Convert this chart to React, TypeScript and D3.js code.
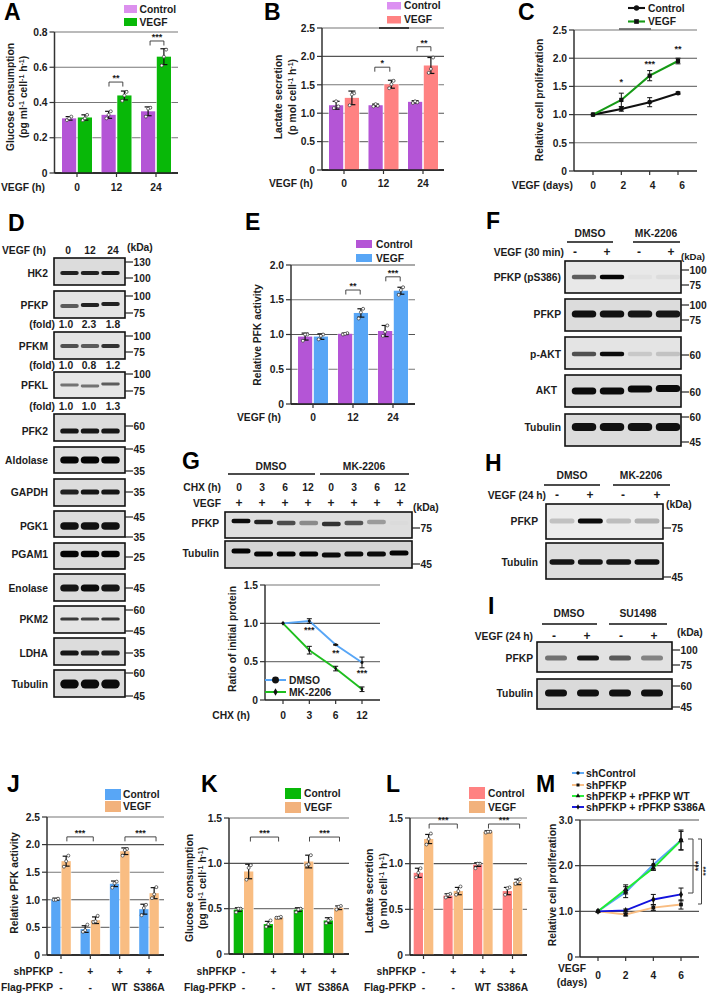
import React from "react";
import * as d3 from "d3";

const FONT = '"Liberation Sans", Arial, sans-serif';
const INK = "#1c1c1c";
const PURPLE = "#b455d6";
const GREEN = "#08b808";
const SALMON = "#ff8282";
const BLUE = "#58a6f6";
const ORANGE = "#f9bd82";

// ---------- bar chart values ----------
const hours = ["0", "12", "24"];
const glucoseCtrl = [0.31, 0.33, 0.35];
const glucoseVegf = [0.315, 0.44, 0.66];
const glucoseCtrlSd = [0.01, 0.02, 0.025];
const glucoseVegfSd = [0.015, 0.025, 0.045];
const glucoseCtrlPts = [[0.3, 0.32, 0.31], [0.31, 0.35, 0.33], [0.32, 0.37, 0.365]];
const glucoseVegfPts = [[0.3, 0.33, 0.31], [0.41, 0.46, 0.44], [0.61, 0.7, 0.66]];

const lactateCtrl = [1.14, 1.14, 1.2];
const lactateVegf = [1.27, 1.51, 1.84];
const lactateCtrlSd = [0.07, 0.02, 0.02];
const lactateVegfSd = [0.12, 0.07, 0.14];
const lactateCtrlPts = [[1.09, 1.12, 1.21], [1.12, 1.13, 1.16], [1.18, 1.19, 1.21]];
const lactateVegfPts = [[1.14, 1.35, 1.33], [1.44, 1.57, 1.51], [1.71, 1.98, 1.78]];

const pfkCtrl = [0.97, 1.01, 1.05];
const pfkVegf = [0.97, 1.31, 1.63];
const pfkCtrlSd = [0.05, 0.01, 0.08];
const pfkVegfSd = [0.04, 0.06, 0.05];
const pfkCtrlPts = [[0.91, 1.0, 1.0], [1.0, 1.02, 1.01], [0.98, 1.13, 1.04]];
const pfkVegfPts = [[0.93, 1.0, 0.98], [1.23, 1.37, 1.32], [1.57, 1.68, 1.64]];

const rescueSh = ["-", "+", "+", "+"];
const rescueFlag = ["-", "-", "WT", "S386A"];

const jPfkCtrl = [1.01, 0.47, 1.29, 0.83];
const jPfkVegf = [1.7, 0.63, 1.88, 1.12];
const jPfkCtrlSd = [0.02, 0.06, 0.05, 0.09];
const jPfkVegfSd = [0.09, 0.06, 0.06, 0.1];
const jPfkCtrlPts = [[1.0, 1.02, 1.0], [0.42, 0.55, 0.45], [1.22, 1.33, 1.3], [0.72, 0.91, 0.85]];
const jPfkVegfPts = [[1.6, 1.8, 1.7], [0.6, 0.71, 0.61], [1.8, 1.92, 1.9], [1.03, 1.23, 1.1]];

const kGluCtrl = [0.49, 0.33, 0.49, 0.37];
const kGluVegf = [0.91, 0.4, 1.02, 0.51];
const kGluCtrlSd = [0.02, 0.03, 0.02, 0.03];
const kGluVegfSd = [0.08, 0.01, 0.07, 0.02];
const kGluCtrlPts = [[0.46, 0.5, 0.5], [0.3, 0.37, 0.33], [0.46, 0.5, 0.49], [0.34, 0.39, 0.37]];
const kGluVegfPts = [[0.82, 0.98, 0.95], [0.4, 0.41, 0.4], [0.98, 1.09, 0.99], [0.49, 0.53, 0.52]];

const lLacCtrl = [0.9, 0.65, 0.99, 0.7];
const lLacVegf = [1.27, 0.7, 1.35, 0.8];
const lLacCtrlSd = [0.05, 0.02, 0.02, 0.04];
const lLacVegfSd = [0.05, 0.04, 0.01, 0.03];
const lLacCtrlPts = [[0.85, 0.95, 0.9], [0.63, 0.67, 0.66], [0.95, 1.0, 1.0], [0.66, 0.74, 0.73]];
const lLacVegfPts = [[1.21, 1.33, 1.27], [0.66, 0.75, 0.7], [1.34, 1.35, 1.35], [0.78, 0.83, 0.8]];

// ---------- line chart values ----------
const days = ["0", "2", "4", "6"];
const prolifCtrl = [1, 1.1, 1.22, 1.38];
const prolifCtrlSd = [0, 0.04, 0.08, 0.02];
const prolifVegf = [1, 1.26, 1.69, 1.95];
const prolifVegfSd = [0, 0.12, 0.09, 0.05];

const chx = ["0", "3", "6", "12"];
const ratioDmso = [1, 1.03, 0.72, 0.49];
const ratioDmsoSd = [0, 0.03, 0.005, 0.07];
const ratioMk = [1, 0.65, 0.41, 0.14];
const ratioMkSd = [0, 0.05, 0.03, 0.03];

const mShControl = [1, 1.42, 2.02, 2.56];
const mShControlSd = [0, 0.12, 0.12, 0.22];
const mShPfkp = [1, 0.93, 1.08, 1.15];
const mShPfkpSd = [0, 0.03, 0.06, 0.1];
const mWt = [1, 1.48, 1.95, 2.55];
const mWtSd = [0, 0.1, 0.05, 0.2];
const mS386a = [1, 1.02, 1.26, 1.37];
const mS386aSd = [0, 0.03, 0.11, 0.14];

// ---------- blot band strengths, one per lane ----------
const dHk2 = [0.85, 0.85, 0.88];
const dPfkp = [0.6, 0.85, 0.85];
const dPfkm = [0.65, 0.6, 0.78];
const dPfkl = [0.5, 0.5, 0.6];
const dPfk2 = [0.9, 0.9, 0.9];
const dAldolase = [0.98, 0.98, 0.98];
const dGapdh = [0.85, 0.9, 0.9];
const dPgk1 = [0.92, 0.92, 0.92];
const dPgam1 = [0.98, 0.98, 0.98];
const dEnolase = [0.9, 0.95, 0.9];
const dPkm2 = [0.75, 0.7, 0.75];
const dLdha = [0.9, 0.85, 0.85];
const dTubulin = [0.95, 0.95, 0.95];
const foldPfkp = ["1.0", "2.3", "1.8"];
const foldPfkm = ["1.0", "0.8", "1.2"];
const foldPfkl = ["1.0", "1.0", "1.3"];

const fPs386 = [0.6, 0.98, 0.03, 0.05];
const fPfkp = [0.92, 0.92, 0.9, 0.9];
const fPakt = [0.65, 0.95, 0.12, 0.15];
const fAkt = [0.95, 0.95, 0.95, 0.95];
const fTubulin = [0.92, 0.92, 0.92, 0.92];

const gPfkp = [0.95, 0.85, 0.65, 0.38, 0.78, 0.62, 0.3, 0.01];
const gTubulin = [0.98, 0.98, 0.98, 0.98, 0.95, 0.95, 0.95, 0.98];
const gChxRow = ["0", "3", "6", "12", "0", "3", "6", "12"];
const gVegfRow = ["+", "+", "+", "+", "+", "+", "+", "+"];

const hPfkp = [0.18, 0.95, 0.2, 0.25];
const hTubulin = [0.9, 0.9, 0.9, 0.92];
const iPfkp = [0.5, 0.9, 0.6, 0.42];
const iTubulin = [0.92, 0.92, 0.92, 0.92];
const pairRow = ["-", "+", "-", "+"];

// split "cell^-1^" into normal and raised runs
function Rich({ text }: { text: string }) {
  const parts = text.split("^");
  return (
    <>
      {parts.map((s, i) =>
        i % 2 ? (
          <tspan key={i} fontSize={7} dy={-3}>{s}</tspan>
        ) : (
          <tspan key={i} dy={i ? 3 : 0}>{s}</tspan>
        )
      )}
    </>
  );
}

function T({ x, y, children, anchor = "start", size = 10.3 }: any) {
  return (
    <text x={x} y={y} textAnchor={anchor} fontSize={size} fontWeight="bold" fontFamily={FONT} fill={INK}>
      {children}
    </text>
  );
}

function Letter({ c, x, y }: any) {
  return (
    <text x={x} y={y} fontSize={23} fontWeight="bold" fontFamily={FONT} fill="#000">{c}</text>
  );
}

function YLabel({ lines, xs, cy }: any) {
  return (
    <>
      {lines.map((l: string, i: number) => (
        <text key={i} transform={`translate(${xs[i]},${cy}) rotate(-90)`} textAnchor="middle" fontSize={10.3}
          fontWeight="bold" fontFamily={FONT} fill={INK}>
          <Rich text={l} />
        </text>
      ))}
    </>
  );
}

function YAxis({ y, axisX, right, ticks }: any) {
  const fmt = (d: number) => (d === 0 ? "0" : d.toFixed(1));
  return (
    <>
      {ticks.map((t: number) => (
        <g key={t}>
          {t > 0 && <line x1={axisX} x2={right} y1={y(t)} y2={y(t)} stroke={t % 1 === 0 ? "#555" : "#777"} strokeWidth={1.1} />}
          <line x1={axisX - 5} x2={axisX} y1={y(t)} y2={y(t)} stroke="#333" strokeWidth={1.2} />
          <T x={axisX - 7} y={y(t) + 3.7} anchor="end">{fmt(t)}</T>
        </g>
      ))}
      <line x1={axisX} x2={axisX} y1={y(ticks[ticks.length - 1])} y2={y(0)} stroke="#333" strokeWidth={1.5} />
      <line x1={axisX} x2={right} y1={y(0)} y2={y(0)} stroke="#222" strokeWidth={1.5} />
    </>
  );
}

function BarPanel({ p }: any) {
  const y = d3.scaleLinear().domain([0, p.max]).range([p.bottom, p.top]);
  const x = d3.scaleLinear().domain([0, p.n - 1]).range([p.first, p.last]);
  const inner = d3.scaleBand().domain(["c", "v"]).range([-p.half, p.half]).paddingInner(p.gap);
  const w = inner.bandwidth();
  const jitter = [-2.2, 2.2, 0];
  const series = [
    { key: "c", vals: p.ctrl, sd: p.ctrlSd, pts: p.ctrlPts, color: p.ctrlColor },
    { key: "v", vals: p.vegf, sd: p.vegfSd, pts: p.vegfPts, color: p.vegfColor },
  ];
  return (
    <g>
      <YAxis y={y} axisX={p.axisX} right={p.right} ticks={p.ticks} />
      {series.map((s) =>
        s.vals.map((v: number, i: number) => {
          const bx = x(i) + (inner(s.key) as number);
          const cx = bx + w / 2;
          return (
            <g key={s.key + i}>
              <rect x={bx - 0.6} y={y(v) - 0.6} width={w + 1.2} height={y(0) - y(v) + 0.6} fill="#fff" opacity={0.7} />
              <rect x={bx} y={y(v)} width={w} height={y(0) - y(v)} fill={s.color} />
              <line x1={cx} x2={cx} y1={y(v - s.sd[i])} y2={y(v + s.sd[i])} stroke="#111" strokeWidth={1.2} />
              <line x1={cx - 3.5} x2={cx + 3.5} y1={y(v + s.sd[i])} y2={y(v + s.sd[i])} stroke="#111" strokeWidth={1.2} />
              <line x1={cx - 3.5} x2={cx + 3.5} y1={y(v - s.sd[i])} y2={y(v - s.sd[i])} stroke="#111" strokeWidth={1.2} />
              {s.pts[i].map((pt: number, k: number) => (
                <circle key={k} cx={cx + jitter[k]} cy={y(pt)} r={1.5} fill="#fff" stroke="#333" strokeWidth={0.7} />
              ))}
            </g>
          );
        })
      )}
      <line x1={p.axisX} x2={p.right} y1={y(0)} y2={y(0)} stroke="#222" strokeWidth={1.5} />
      {d3.range(p.n).map((i) => (
        <line key={i} x1={x(i)} x2={x(i)} y1={y(0)} y2={y(0) + 4} stroke="#333" strokeWidth={1.2} />
      ))}
      {p.brackets.map((b: any, i: number) => {
        const by = y(b.at);
        return (
          <g key={i}>
            <path d={`M${x(b.from)},${by + 4.5}V${by}H${x(b.to)}V${by + 4.5}`} fill="none" stroke="#333" strokeWidth={0.9} />
            <T x={(x(b.from) + x(b.to)) / 2} y={by - 1} anchor="middle" size={9}>{b.label}</T>
          </g>
        );
      })}
      {p.rows.map((r: any, i: number) => (
        <g key={i}>
          <T x={p.rowEnd} y={r.y} anchor="end">{r.label}</T>
          {r.values.map((t: string, k: number) => (
            <T key={k} x={x(k)} y={r.y} anchor="middle">{t}</T>
          ))}
        </g>
      ))}
    </g>
  );
}

function LinePanel({ p }: any) {
  const y = d3.scaleLinear().domain([0, p.max]).range([p.bottom, p.top]);
  const x = d3.scalePoint().domain(p.cats).range([p.first, p.last]);
  const line = d3.line<number>().x((_, i) => x(p.cats[i]) as number).y((d) => y(d));
  return (
    <g>
      <YAxis y={y} axisX={p.axisX} right={p.right} ticks={p.ticks} />
      {p.cats.map((c: string, i: number) => (
        <g key={c}>
          <line x1={x(c)} x2={x(c)} y1={y(0)} y2={y(0) + 4} stroke="#333" strokeWidth={1.2} />
          <T x={(x(c) as number) + (p.tickDx ? p.tickDx[i] : 0)} y={p.tickY} anchor="middle">{c}</T>
        </g>
      ))}
      {p.series.map((s: any) => (
        <path key={s.name} d={line(s.vals) as string} fill="none" stroke={s.color} strokeWidth={p.lineW || 1.9} />
      ))}
      {p.series.map((s: any) =>
        s.vals.map((v: number, i: number) => {
          const cx = x(p.cats[i]) as number;
          return (
            <g key={s.name + i}>
              {s.sd[i] > 0 && (
                <path d={`M${cx - 2.5},${y(v + s.sd[i])}H${cx + 2.5}M${cx},${y(v + s.sd[i])}V${y(v - s.sd[i])}M${cx - 2.5},${y(v - s.sd[i])}H${cx + 2.5}`}
                  fill="none" stroke="#111" strokeWidth={1} />
              )}
              <path d={d3.symbol().type(s.shape).size(p.markSize || 13)() as string} transform={`translate(${cx},${y(v)})`} fill="#111" />
            </g>
          );
        })
      )}
      {(p.stars || []).map((s: any, i: number) => (
        <T key={i} x={x(s.at)} y={y(s.v)} anchor="middle" size={9}>{s.label}</T>
      ))}
    </g>
  );
}

function BarLegend({ x0, x1, ys, h, tx, colors }: any) {
  return (
    <>
      {["Control", "VEGF"].map((n, i) => (
        <g key={n}>
          <rect x={x0} y={ys[i]} width={x1 - x0} height={h} fill={colors[i]} />
          <T x={tx} y={ys[i] + h / 2 + 3.7}>{n}</T>
        </g>
      ))}
    </>
  );
}

function LineLegend({ rows, x0, x1, tx, markSize = 18, lineW = 1.9, size = 10.3 }: any) {
  return (
    <>
      {rows.map((r: any) => (
        <g key={r.name}>
          <line x1={x0} x2={x1} y1={r.y} y2={r.y} stroke={r.color} strokeWidth={lineW} />
          <path d={d3.symbol().type(r.shape).size(r.size || markSize)() as string} transform={`translate(${(x0 + x1) / 2},${r.y})`} fill="#111" />
          <T x={tx} y={r.y + 3.7} size={size}>{r.name}</T>
        </g>
      ))}
    </>
  );
}

// one boxed gel strip: grey ground, blurred bands from the lane strengths
function Blot({ x0, x1, lanes, bandW, b, labelEnd }: any) {
  const lx = d3.scalePoint().domain(d3.range(b.levels.length).map(String)).range(lanes);
  return (
    <g>
      <rect x={x0} y={b.y0} width={x1 - x0} height={b.y1 - b.y0} fill={b.bg || "#dcdcdc"} />
      <g filter="url(#bandBlur)">
        {b.levels.map((lv: number, i: number) => (
          <rect key={i} x={(lx(String(i)) as number) - bandW / 2} y={b.band - b.h / 2 + (b.tilt ? b.tilt[i] : 0)} width={bandW} height={b.h}
            rx={b.h / 2} fill="#050505" opacity={lv} />
        ))}
      </g>
      <rect x={x0} y={b.y0} width={x1 - x0} height={b.y1 - b.y0} fill="none" stroke="#111" strokeWidth={1.6} />
      <T x={labelEnd} y={b.band + 3.7} anchor="end">{b.label}</T>
      {(b.marks || []).map((m: any, i: number) => (
        <g key={i}>
          <line x1={x1} x2={x1 + 8} y1={m[1]} y2={m[1]} stroke="#222" strokeWidth={1.2} />
          <T x={x1 + 8.5} y={m[1] + 3.7}>{m[0]}</T>
        </g>
      ))}
    </g>
  );
}

const panelA = {
  axisX: 54.5, right: 178, top: 32, bottom: 173, max: 0.8, ticks: [0, 0.2, 0.4, 0.6, 0.8], n: 3, first: 77, last: 156,
  half: 15, gap: 0.1, ctrl: glucoseCtrl, vegf: glucoseVegf, ctrlSd: glucoseCtrlSd, vegfSd: glucoseVegfSd,
  ctrlPts: glucoseCtrlPts, vegfPts: glucoseVegfPts, ctrlColor: PURPLE, vegfColor: GREEN,
  brackets: [{ from: 0.81, to: 1.16, at: 0.516, label: "**" }, { from: 1.85, to: 2.2, at: 0.749, label: "***" }],
  rows: [{ label: "VEGF (h)", values: hours, y: 190.5 }], rowEnd: 45,
};
const panelB = {
  axisX: 322, right: 444, top: 28, bottom: 170, max: 2.5, ticks: [0, 0.5, 1, 1.5, 2, 2.5], n: 3, first: 344, last: 423,
  half: 15, gap: 0.1, ctrl: lactateCtrl, vegf: lactateVegf, ctrlSd: lactateCtrlSd, vegfSd: lactateVegfSd,
  ctrlPts: lactateCtrlPts, vegfPts: lactateVegfPts, ctrlColor: PURPLE, vegfColor: SALMON,
  brackets: [{ from: 0.78, to: 1.16, at: 1.81, label: "*" }, { from: 1.85, to: 2.2, at: 2.17, label: "**" }],
  rows: [{ label: "VEGF (h)", values: hours, y: 186.5 }], rowEnd: 313,
};
const panelE = {
  axisX: 291, right: 415, top: 265, bottom: 404, max: 2, ticks: [0, 0.5, 1, 1.5, 2], n: 3, first: 313, last: 393,
  half: 15, gap: 0.1, ctrl: pfkCtrl, vegf: pfkVegf, ctrlSd: pfkCtrlSd, vegfSd: pfkVegfSd,
  ctrlPts: pfkCtrlPts, vegfPts: pfkVegfPts, ctrlColor: PURPLE, vegfColor: BLUE,
  brackets: [{ from: 0.82, to: 1.18, at: 1.64, label: "**" }, { from: 1.82, to: 2.18, at: 1.83, label: "***" }],
  rows: [{ label: "VEGF (h)", values: hours, y: 420.5 }], rowEnd: 281,
};
const panelJ = {
  axisX: 47, right: 164, top: 817, bottom: 955, max: 2.5, ticks: [0, 0.5, 1, 1.5, 2, 2.5], n: 4, first: 61, last: 149,
  half: 9.8, gap: 0.1, ctrl: jPfkCtrl, vegf: jPfkVegf, ctrlSd: jPfkCtrlSd, vegfSd: jPfkVegfSd,
  ctrlPts: jPfkCtrlPts, vegfPts: jPfkVegfPts, ctrlColor: BLUE, vegfColor: ORANGE,
  brackets: [{ from: 0.2, to: 1.1, at: 2.14, label: "***" }, { from: 2.18, to: 3.24, at: 2.14, label: "***" }],
  rows: [{ label: "shPFKP", values: rescueSh, y: 974.5 }, { label: "Flag-PFKP", values: rescueFlag, y: 990.5 }], rowEnd: 53,
};
const panelK = {
  axisX: 229, right: 349, top: 818, bottom: 954, max: 1.5, ticks: [0, 0.5, 1, 1.5], n: 4, first: 243.5, last: 333.5,
  half: 9.8, gap: 0.1, ctrl: kGluCtrl, vegf: kGluVegf, ctrlSd: kGluCtrlSd, vegfSd: kGluVegfSd,
  ctrlPts: kGluCtrlPts, vegfPts: kGluVegfPts, ctrlColor: GREEN, vegfColor: ORANGE,
  brackets: [{ from: 0.23, to: 1.17, at: 1.29, label: "***" }, { from: 2.2, to: 3.2, at: 1.29, label: "***" }],
  rows: [{ label: "shPFKP", values: rescueSh, y: 974.5 }, { label: "Flag-PFKP", values: rescueFlag, y: 990.5 }], rowEnd: 236,
};
const panelL = {
  axisX: 410, right: 527, top: 818, bottom: 955, max: 1.5, ticks: [0, 0.5, 1, 1.5], n: 4, first: 423.5, last: 512.5,
  half: 9.8, gap: 0.1, ctrl: lLacCtrl, vegf: lLacVegf, ctrlSd: lLacCtrlSd, vegfSd: lLacVegfSd,
  ctrlPts: lLacCtrlPts, vegfPts: lLacVegfPts, ctrlColor: SALMON, vegfColor: ORANGE,
  brackets: [{ from: 0.19, to: 1.14, at: 1.434, label: "***" }, { from: 2.19, to: 3.24, at: 1.434, label: "***" }],
  rows: [{ label: "shPFKP", values: rescueSh, y: 974.5 }, { label: "Flag-PFKP", values: rescueFlag, y: 990.5 }], rowEnd: 416,
};

const panelC = {
  axisX: 574, right: 697, top: 30, bottom: 171, max: 2.5, ticks: [0, 0.5, 1, 1.5, 2, 2.5], cats: days, first: 593, last: 678, tickY: 188.5, tickDx: [0, 2, 3, 4], markSize: 18, lineW: 2.1,
  series: [
    { name: "Control", vals: prolifCtrl, sd: prolifCtrlSd, color: "#111", shape: d3.symbolCircle },
    { name: "VEGF", vals: prolifVegf, sd: prolifVegfSd, color: "#169a16", shape: d3.symbolSquare },
  ],
  stars: [{ at: "2", v: 1.53, label: "*" }, { at: "4", v: 1.85, label: "***" }, { at: "6", v: 2.11, label: "**" }],
};
const panelG = {
  axisX: 265, right: 380, top: 585, bottom: 700, max: 1.5, ticks: [0, 0.5, 1, 1.5], cats: chx, first: 283, last: 362, tickY: 719, markSize: 7,
  series: [
    { name: "DMSO", vals: ratioDmso, sd: ratioDmsoSd, color: BLUE, shape: d3.symbolCircle },
    { name: "MK-2206", vals: ratioMk, sd: ratioMkSd, color: "#1fbf1f", shape: d3.symbolDiamond },
  ],
  stars: [{ at: "3", v: 0.87, label: "***" }, { at: "6", v: 0.57, label: "**" }, { at: "12", v: 0.31, label: "***" }],
};
const panelM = {
  axisX: 580, right: 699, top: 820, bottom: 957, max: 3, ticks: [0, 1, 2, 3], cats: days, first: 598, last: 681, tickY: 979, markSize: 14, lineW: 1.9,
  series: [
    { name: "shControl", vals: mShControl, sd: mShControlSd, color: BLUE, shape: d3.symbolCircle },
    { name: "shPFKP", vals: mShPfkp, sd: mShPfkpSd, color: ORANGE, shape: d3.symbolSquare },
    { name: "shPFKP + rPFKP WT", vals: mWt, sd: mWtSd, color: "#22ee33", shape: d3.symbolTriangle },
    { name: "shPFKP + rPFKP S386A", vals: mS386a, sd: mS386aSd, color: "#1212dd", shape: d3.symbolDiamond },
  ],
};

const dBlots = [
  { label: "HK2", levels: dHk2, y0: 258, y1: 285, band: 273, h: 4.2, marks: [["130", 262], ["100", 278]] },
  { label: "PFKP", levels: dPfkp, y0: 291, y1: 318, band: 305, h: 4, tilt: [1, 0, -1], marks: [["100", 296], ["75", 313]], bg: "#e4e4e4" },
  { label: "PFKM", levels: dPfkm, y0: 332, y1: 359, band: 346, h: 4, marks: [["100", 336], ["75", 352]], bg: "#e4e4e4" },
  { label: "PFKL", levels: dPfkl, y0: 372, y1: 398, band: 385, h: 2.8, tilt: [0, 1, -1], marks: [["100", 374], ["75", 391]], bg: "#e6e6e6" },
  { label: "PFK2", levels: dPfk2, y0: 414, y1: 441, band: 431, h: 5.2, marks: [["60", 426]] },
  { label: "Aldolase", levels: dAldolase, y0: 447, y1: 473, band: 460, h: 7, marks: [["45", 449], ["35", 471]] },
  { label: "GAPDH", levels: dGapdh, y0: 479, y1: 506, band: 492, h: 5.2, marks: [["35", 492]] },
  { label: "PGK1", levels: dPgk1, y0: 511, y1: 537, band: 526, h: 7.5, marks: [["45", 517], ["35", 537]] },
  { label: "PGAM1", levels: dPgam1, y0: 543, y1: 569, band: 554, h: 6.5, marks: [["25", 557]] },
  { label: "Enolase", levels: dEnolase, y0: 574, y1: 601, band: 588, h: 7, marks: [["45", 588]] },
  { label: "PKM2", levels: dPkm2, y0: 606, y1: 633, band: 619, h: 3.2, marks: [["60", 610], ["45", 631]], bg: "#e4e4e4" },
  { label: "LDHA", levels: dLdha, y0: 638, y1: 665, band: 653, h: 5.2, marks: [["35", 653]] },
  { label: "Tubulin", levels: dTubulin, y0: 670, y1: 697, band: 684, h: 9, marks: [["60", 673], ["45", 696]] },
];
const fBlots = [
  { label: "PFKP (pS386)", levels: fPs386, y0: 261, y1: 293, band: 277, h: 4.5, marks: [["100", 270], ["75", 285]], bg: "#e8e8e8" },
  { label: "PFKP", levels: fPfkp, y0: 299, y1: 331, band: 314, h: 7, marks: [["100", 305], ["75", 320]] },
  { label: "p-AKT", levels: fPakt, y0: 337, y1: 369, band: 354, h: 4.5, marks: [["60", 355]], bg: "#e4e4e4" },
  { label: "AKT", levels: fAkt, y0: 375, y1: 407, band: 390, h: 7, tilt: [1, 1, -1, -1.5], marks: [["60", 392]] },
  { label: "Tubulin", levels: fTubulin, y0: 414, y1: 446, band: 427, h: 8, marks: [["60", 417], ["45", 442]] },
];
const gBlots = [
  { label: "PFKP", levels: gPfkp, y0: 512, y1: 538, band: 523, h: 4.5, tilt: [-2, -1, 0, 0, 1, 0, -1, 0], marks: [["75", 528]], bg: "#dedede" },
  { label: "Tubulin", levels: gTubulin, y0: 541, y1: 568, band: 553, h: 5, tilt: [-2, 1, 1, 1, 2, 1, 1, 0], marks: [["45", 564]], bg: "#d4d4d4" },
];
const hBlots = [
  { label: "PFKP", levels: hPfkp, y0: 504, y1: 539, band: 521, h: 5, marks: [["75", 528]], bg: "#ececec" },
  { label: "Tubulin", levels: hTubulin, y0: 543, y1: 579, band: 562, h: 5.5, marks: [["45", 577]], bg: "#dedede" },
];
const iBlots = [
  { label: "PFKP", levels: iPfkp, y0: 642, y1: 672, band: 658, h: 5, marks: [["100", 650], ["75", 665]], bg: "#e2e2e2" },
  { label: "Tubulin", levels: iTubulin, y0: 679, y1: 709, band: 693, h: 7, marks: [["60", 686], ["45", 707]], bg: "#dadada" },
];

// treatment bar and label above a pair of lanes
function Treatment({ name, cx, ty, x0, x1, ly }: any) {
  return (
    <>
      <T x={cx} y={ty} anchor="middle">{name}</T>
      <line x1={x0} x2={x1} y1={ly} y2={ly} stroke="#111" strokeWidth={1.5} />
    </>
  );
}

function Lanes({ values, xs, y, size }: any) {
  return (
    <>
      {values.map((v: string, i: number) => (
        <T key={i} x={xs[i]} y={y} anchor="middle" size={size}>{v}</T>
      ))}
    </>
  );
}

export default function App() {
  const gLanes = d3.scalePoint().domain(d3.range(8).map(String)).range([239, 400]);
  return (
    <svg width={710} height={994} style={{ position: "absolute", left: 0, top: 0, display: "block", background: "#fff" }}>
      <defs>
        <filter id="bandBlur" x="-20%" y="-100%" width="140%" height="300%">
          <feGaussianBlur stdDeviation="0.75" />
        </filter>
      </defs>

      {/* A */}
      <Letter c="A" x={4} y={20} />
      <BarLegend x0={124} x1={137} ys={[5, 18]} h={8} tx={139.5} colors={["#dc90ee", GREEN]} />
      <BarPanel p={panelA} />
      <YLabel lines={["Glucose consumption", "(pg ml^-1^ cell^-1^ h^-1^)"]} xs={[14, 27]} cy={97} />

      {/* B */}
      <Letter c="B" x={264} y={20} />
      <BarLegend x0={387} x1={401} ys={[2, 16]} h={7.5} tx={404} colors={["#dc90f2", SALMON]} />
      <BarPanel p={panelB} />
      <line x1={379} x2={409} y1={28} y2={28} stroke="#111" strokeWidth={1.5} />
      <YLabel lines={["Lactate secretion", "(p mol cell^-1^ h^-1^)"]} xs={[282, 296]} cy={97} />

      {/* C */}
      <Letter c="C" x={518} y={20} />
      <LineLegend x0={628} x1={645} tx={648} lineW={2.1} markSize={22} rows={[
        { name: "Control", y: 8, color: "#111", shape: d3.symbolCircle },
        { name: "VEGF", y: 21.5, color: "#169a16", shape: d3.symbolSquare },
      ]} />
      <LinePanel p={panelC} />
      <line x1={619} x2={651} y1={29} y2={29} stroke="#555" strokeWidth={1.5} />
      <YLabel lines={["Relative cell proliferation"]} xs={[543]} cy={100} />
      <T x={573} y={188.5} anchor="end">VEGF (days)</T>

      {/* D */}
      <Letter c="D" x={8} y={231} />
      <T x={46} y={253.5} anchor="end">VEGF (h)</T>
      <Lanes values={hours} xs={[68, 90, 113]} y={253.5} />
      <T x={127} y={251}>(kDa)</T>
      {dBlots.map((b) => (
        <Blot key={b.label} b={b} x0={54} x1={125} lanes={[69.5, 110.5]} bandW={18.5} labelEnd={48} />
      ))}
      <T x={55} y={327.5} anchor="end">(fold)</T>
      <Lanes values={foldPfkp} xs={[66, 89, 113]} y={327.5} />
      <T x={55} y={368.5} anchor="end">(fold)</T>
      <Lanes values={foldPfkm} xs={[66, 89, 113]} y={368.5} />
      <T x={55} y={409.5} anchor="end">(fold)</T>
      <Lanes values={foldPfkl} xs={[66, 89, 113]} y={409.5} />

      {/* E */}
      <Letter c="E" x={245} y={230} />
      <BarLegend x0={356} x1={372} ys={[240, 254]} h={8} tx={376} colors={[PURPLE, BLUE]} />
      <BarPanel p={panelE} />
      <YLabel lines={["Relative PFK activity"]} xs={[261]} cy={335} />

      {/* F */}
      <Letter c="F" x={486} y={229} />
      <Treatment name="DMSO" cx={590} ty={237} x0={567} x1={613} ly={242} />
      <Treatment name="MK-2206" cx={656} ty={237} x0={633} x1={680} ly={242} />
      <T x={564} y={255.5} anchor="end">VEGF (30 min)</T>
      <Lanes values={pairRow} xs={[575, 607, 639, 671]} y={255.5} size={12} />
      <T x={681} y={259.5} size={9.6}>(kDa)</T>
      {fBlots.map((b) => (
        <Blot key={b.label} b={b} x0={565} x1={681} lanes={[584, 668]} bandW={24.5} labelEnd={b.label === "AKT" ? 557 : 561} />
      ))}

      {/* G */}
      <Letter c="G" x={182} y={469} />
      <Treatment name="DMSO" cx={271} ty={470} x0={228} x1={315} ly={474} />
      <Treatment name="MK-2206" cx={364} ty={470} x0={320} x1={409} ly={474} />
      <T x={221} y={490.5} anchor="end">CHX (h)</T>
      <Lanes values={gChxRow} xs={gChxRow.map((_, i) => gLanes(String(i)))} y={490.5} />
      <T x={221} y={506.5} anchor="end">VEGF</T>
      <Lanes values={gVegfRow} xs={gVegfRow.map((_, i) => gLanes(String(i)))} y={506.5} size={12} />
      <T x={413} y={510.5}>(kDa)</T>
      {gBlots.map((b) => (
        <Blot key={b.label} b={b} x0={225} x1={412} lanes={[241, 399]} bandW={19} labelEnd={219} />
      ))}
      <LinePanel p={panelG} />
      <YLabel lines={["Ratio of initial protein"]} xs={[236]} cy={639} />
      <T x={250} y={719} anchor="end">CHX (h)</T>
      <LineLegend x0={265} x1={286} tx={289} lineW={2} rows={[
        { name: "DMSO", y: 680, color: BLUE, shape: d3.symbolCircle, size: 38 },
        { name: "MK-2206", y: 692, color: "#1fbf1f", shape: d3.symbolDiamond, size: 16 },
      ]} />

      {/* H */}
      <Letter c="H" x={485} y={471} />
      <Treatment name="DMSO" cx={572} ty={479} x0={544} x1={600} ly={485} />
      <Treatment name="MK-2206" cx={641} ty={479} x0={613} x1={670} ly={485} />
      <T x={546} y={498.5} anchor="end">VEGF (24 h)</T>
      <Lanes values={pairRow} xs={[557, 590, 623, 657]} y={498.5} size={12} />
      <T x={666} y={507.5}>(kDa)</T>
      {hBlots.map((b) => (
        <Blot key={b.label} b={b} x0={546} x1={663} lanes={[562, 647]} bandW={25} labelEnd={538} />
      ))}

      {/* I */}
      <Letter c="I" x={488} y={614} />
      <Treatment name="DMSO" cx={569} ty={617} x0={542} x1={597} ly={624} />
      <Treatment name="SU1498" cx={638} ty={617} x0={609} x1={667} ly={624} />
      <T x={533} y={639.5} anchor="end">VEGF (24 h)</T>
      <Lanes values={pairRow} xs={[554, 587, 621, 654]} y={639.5} size={12} />
      <T x={677} y={635.5}>(kDa)</T>
      {iBlots.map((b) => (
        <Blot key={b.label} b={b} x0={537} x1={672} lanes={[556, 652]} bandW={22} labelEnd={533} />
      ))}

      {/* J */}
      <Letter c="J" x={7} y={792} />
      <BarLegend x0={105} x1={121} ys={[789, 801]} h={11} tx={123} colors={[BLUE, "#f2b27c"]} />
      <BarPanel p={panelJ} />
      <YLabel lines={["Relative PFK activity"]} xs={[18]} cy={883} />

      {/* K */}
      <Letter c="K" x={201} y={792} />
      <BarLegend x0={285} x1={301} ys={[788, 802]} h={11} tx={304} colors={[GREEN, "#f2b27c"]} />
      <BarPanel p={panelK} />
      <YLabel lines={["Glucose consumption", "(pg ml^-1^ cell^-1^ h^-1^)"]} xs={[193, 206]} cy={888} />

      {/* L */}
      <Letter c="L" x={386} y={792} />
      <BarLegend x0={469} x1={485} ys={[787, 801]} h={12} tx={488} colors={[SALMON, "#f2b27c"]} />
      <BarPanel p={panelL} />
      <YLabel lines={["Lactate secretion", "(p mol cell^-1^ h^-1^)"]} xs={[373, 387]} cy={891} />

      {/* M */}
      <Letter c="M" x={536} y={792} />
      <LineLegend x0={572} x1={584} tx={586} markSize={9} size={10.55} rows={[
        { name: "shControl", y: 773, color: BLUE, shape: d3.symbolCircle },
        { name: "shPFKP", y: 785, color: ORANGE, shape: d3.symbolSquare },
        { name: "shPFKP + rPFKP WT", y: 796, color: "#22ee33", shape: d3.symbolTriangle },
        { name: "shPFKP + rPFKP S386A", y: 807, color: "#1212dd", shape: d3.symbolDiamond },
      ]} />
      <LinePanel p={panelM} />
      <YLabel lines={["Relative cell proliferation"]} xs={[556]} cy={885} />
      <T x={572} y={971.5} anchor="middle">VEGF</T>
      <T x={572} y={985.5} anchor="middle">(days)</T>
      <path d="M688,839H693V893H688" fill="none" stroke="#444" strokeWidth={1} />
      <path d="M698,839H701.5V904H698" fill="none" stroke="#444" strokeWidth={1} />
      <text transform="translate(700.5,866) rotate(-90)" textAnchor="middle" fontSize={8.5} fontWeight="bold" fontFamily={FONT} fill={INK}>***</text>
      <text transform="translate(708,871) rotate(-90)" textAnchor="middle" fontSize={8} fontWeight="bold" fontFamily={FONT} fill={INK}>***</text>
    </svg>
  );
}
